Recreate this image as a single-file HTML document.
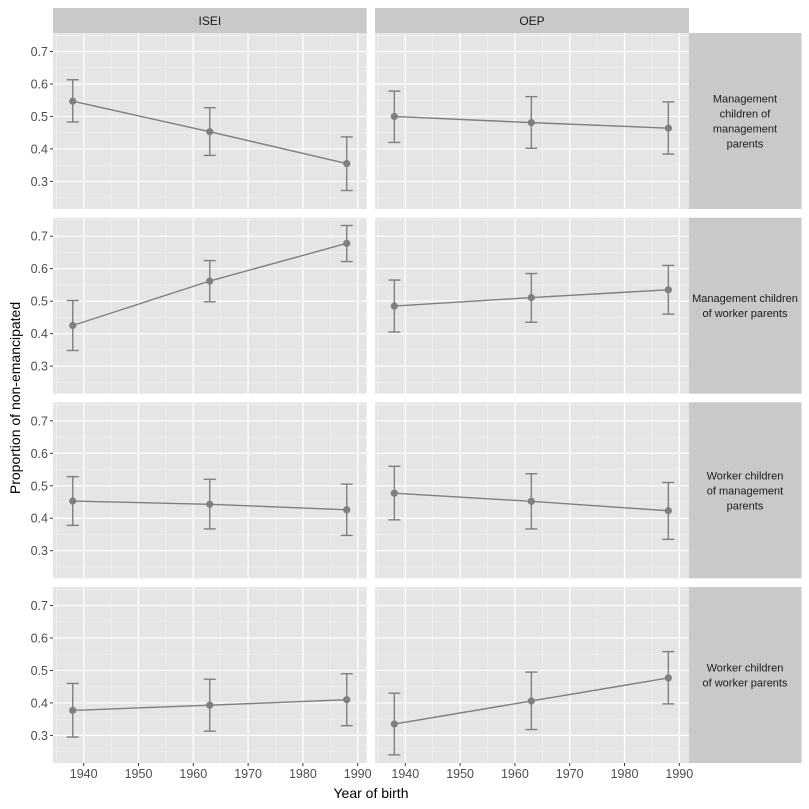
<!DOCTYPE html>
<html><head><meta charset="utf-8"><style>
html,body{margin:0;padding:0;background:#fff;}
svg{display:block;font-family:"Liberation Sans",Arial,sans-serif;}
</style></head><body>
<svg id="s" width="809" height="809" xmlns="http://www.w3.org/2000/svg"></svg>
<script>
var s=document.getElementById('s'),h='';
var rows=[33,217.7,402.3,587],PH=176;
var cols=[{x0:53,x1:366.7,a:83.7,b:357.7},{x0:375,x1:689,a:405.3,b:679.3}];
function X(c,yr){return c.a+(yr-1940)*(c.b-c.a)/50;}
function Y(r,v){return rows[r]+(0.757-v)/(0.542)*PH;}
var data=[
[[[0.547,0.483,0.613],[0.453,0.380,0.527],[0.355,0.272,0.437]],[[0.500,0.420,0.578],[0.481,0.402,0.561],[0.464,0.384,0.545]]],
[[[0.425,0.348,0.502],[0.562,0.498,0.625],[0.678,0.622,0.733]],[[0.485,0.405,0.565],[0.511,0.435,0.585],[0.535,0.460,0.610]]],
[[[0.453,0.378,0.528],[0.443,0.367,0.520],[0.426,0.347,0.505]],[[0.477,0.395,0.560],[0.452,0.367,0.537],[0.423,0.335,0.510]]],
[[[0.377,0.295,0.460],[0.393,0.313,0.473],[0.410,0.330,0.490]],[[0.335,0.240,0.430],[0.406,0.318,0.495],[0.477,0.397,0.558]]]];
var strips=[["Management","children of","management","parents"],["Management children","of worker parents"],["Worker children","of management","parents"],["Worker children","of worker parents"]];
var yrs=[1938,1963,1988];
// top strips
cols.forEach(function(c,i){h+='<rect x="'+c.x0+'" y="8" width="'+(c.x1-c.x0)+'" height="25" fill="#c9c9c9"/>';
h+='<text x="'+((c.x0+c.x1)/2)+'" y="25" font-size="12" text-anchor="middle" fill="#1a1a1a">'+(i?'OEP':'ISEI')+'</text>';});
for(var r=0;r<4;r++){
 var t=rows[r],b=t+PH;
 cols.forEach(function(c,ci){
  h+='<rect x="'+c.x0+'" y="'+t+'" width="'+(c.x1-c.x0)+'" height="'+PH+'" fill="#e5e5e5"/>';
  for(var v=0.25;v<0.76;v+=0.1){var y=Y(r,v);if(y>t&&y<b)h+='<line x1="'+c.x0+'" x2="'+c.x1+'" y1="'+y+'" y2="'+y+'" stroke="#f2f2f2" stroke-width="0.6"/>';}
  for(var yr=1935;yr<=1995;yr+=10){var x=X(c,yr);if(x>c.x0&&x<c.x1)h+='<line x1="'+x+'" x2="'+x+'" y1="'+t+'" y2="'+b+'" stroke="#f2f2f2" stroke-width="0.6"/>';}
  for(var k=3;k<=7;k++){var y=Y(r,k/10);h+='<line x1="'+c.x0+'" x2="'+c.x1+'" y1="'+y+'" y2="'+y+'" stroke="#fff" stroke-width="1.2"/>';}
  for(var yr=1940;yr<=1990;yr+=10){var x=X(c,yr);h+='<line x1="'+x+'" x2="'+x+'" y1="'+t+'" y2="'+b+'" stroke="#fff" stroke-width="1.2"/>';}
  var d=data[r][ci],pts=[];
  d.forEach(function(p,i){var x=X(c,yrs[i]);pts.push(x+','+Y(r,p[0]));
   h+='<line x1="'+x+'" x2="'+x+'" y1="'+Y(r,p[1])+'" y2="'+Y(r,p[2])+'" stroke="#7f7f7f" stroke-width="1.4"/>';
   h+='<line x1="'+(x-6)+'" x2="'+(x+6)+'" y1="'+Y(r,p[1])+'" y2="'+Y(r,p[1])+'" stroke="#7f7f7f" stroke-width="1.4"/>';
   h+='<line x1="'+(x-6)+'" x2="'+(x+6)+'" y1="'+Y(r,p[2])+'" y2="'+Y(r,p[2])+'" stroke="#7f7f7f" stroke-width="1.4"/>';});
  h+='<polyline points="'+pts.join(' ')+'" fill="none" stroke="#7f7f7f" stroke-width="1.4"/>';
  d.forEach(function(p,i){h+='<circle cx="'+X(c,yrs[i])+'" cy="'+Y(r,p[0])+'" r="3.6" fill="#7f7f7f"/>';});
 });
 for(var k=3;k<=7;k++){var y=Y(r,k/10);h+='<line x1="50" x2="53" y1="'+y+'" y2="'+y+'" stroke="#333" stroke-width="1"/>';
  h+='<text x="48" y="'+(y+4.5)+'" font-size="12.5" text-anchor="end" fill="#4d4d4d">0.'+k+'</text>';}
 h+='<rect x="689" y="'+t+'" width="112.5" height="'+PH+'" fill="#c9c9c9"/>';
 var L=strips[r],cy=t+PH/2-(L.length-1)*7.5;
 L.forEach(function(l,i){h+='<text x="745" y="'+(cy+i*15+4)+'" font-size="11" text-anchor="middle" fill="#1a1a1a">'+l+'</text>';});
}
cols.forEach(function(c){for(var yr=1940;yr<=1990;yr+=10){var x=X(c,yr);
 h+='<line x1="'+x+'" x2="'+x+'" y1="763" y2="766" stroke="#333"/>';
 h+='<text x="'+x+'" y="778" font-size="12.5" text-anchor="middle" fill="#4d4d4d">'+yr+'</text>';}});
h+='<text x="371" y="798" font-size="14" text-anchor="middle" fill="#000">Year of birth</text>';
h+='<text transform="translate(20,398) rotate(-90)" font-size="14" text-anchor="middle" fill="#000">Proportion of non-emancipated</text>';
s.innerHTML=h;
</script>
</body></html>
